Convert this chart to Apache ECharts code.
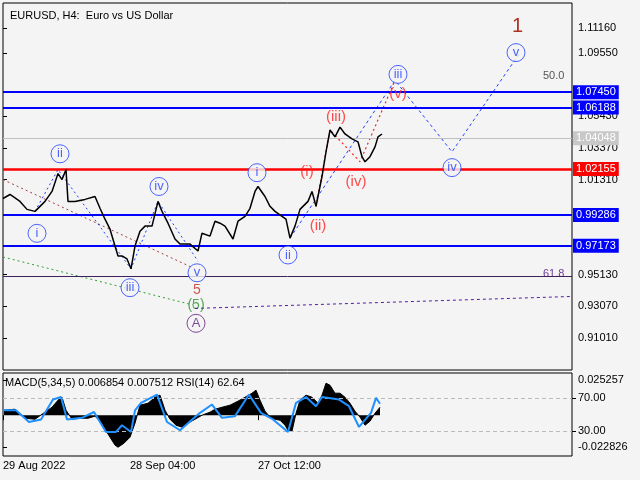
<!DOCTYPE html>
<html><head><meta charset="utf-8">
<script src="https://cdn.jsdelivr.net/npm/echarts@6/dist/echarts.min.js"></script>
<style>html,body{margin:0;padding:0;background:#f4f4f4}#c{width:640px;height:480px}</style>
</head><body><div id="c"></div>
<script>
// price path (x = H4 bar position, price)
var priceX = [0,7,17,24,32,42,49,55,59,63,65,72,82,92,97,102,107,112,115,119,124,128,132,137,142,149,155,159,165,172,177,187,195,199,207,212,217,222,230,235,242,247,252,255,262,267,272,279,283,287,292,297,305,309,313,319,323,327,332,337,342,349,355,359,362,367,372,375,379];
var priceY = [1.0008,1.0034,0.9989,0.9937,0.9924,0.9989,1.0054,1.0170,1.0131,1.0196,0.9989,0.9989,1.0002,1.0021,0.9944,0.9873,0.9808,0.9698,0.9634,0.9634,0.9614,0.9550,0.9698,0.9795,0.9828,0.9828,0.9989,0.9924,0.9847,0.9744,0.9711,0.9711,0.9666,0.9782,0.9763,0.9860,0.9847,0.9828,0.9744,0.9860,0.9892,0.9944,1.0054,1.0086,1.0021,0.9957,0.9924,0.9892,0.9873,0.9750,0.9828,0.9937,0.9989,1.0054,0.9957,1.0151,1.0312,1.0454,1.0409,1.0473,1.0428,1.0396,1.0377,1.0280,1.0247,1.0280,1.0344,1.0409,1.0428];
var priceTicks = [1.1116,1.0955,1.0543,1.0337,1.0131,0.9513,0.9307,0.9101];
var levelBlue = [1.0745,1.06188,0.99286,0.97173];
var levelRed = 1.02155, levelGray = 1.04048, level618 = 0.9460;
// indicator panel
var macdX = [1,12,22,32,42,49,55,59,63,69,77,85,92,97,102,107,112,115,121,127,132,137,145,152,157,162,167,173,179,185,192,199,207,212,219,227,235,242,249,253,257,262,267,272,277,282,285,289,293,297,303,309,315,319,323,327,332,337,342,347,352,357,362,367,372,377];
var macdV = [0.0036,0.0043,-0.0022,-0.0029,0.0022,0.0057,0.0108,0.0129,0.0036,-0.0029,-0.0022,-0.0022,-0.0007,-0.0043,-0.0101,-0.0158,-0.0215,-0.0230,-0.0201,-0.0158,-0.0057,0.0072,0.0086,0.0129,0.0144,0.0036,-0.0029,-0.0072,-0.0086,-0.0057,-0.0029,0,0.0022,0.0043,0.0057,0.0072,0.0101,0.0129,0.0158,0.0180,0.0108,0.0029,-0.0014,-0.0029,-0.0036,-0.0072,-0.0108,-0.0115,0.0014,0.0108,0.0144,0.0129,0.0086,0.0144,0.0230,0.0215,0.0158,0.0158,0.0129,0.0086,0.0029,-0.0014,-0.0072,-0.0043,0.0014,0.0057];
var rsiX = [1,13,26,38,50,58,64,79,91,103,113,119,128,132,138,154,164,177,197,209,219,232,246,258,270,285,293,303,313,319,336,346,356,368,373,377];
var rsiV = [55,55,41,44,68,71,44,46,53,29,29,37,29,55,64,74,41,31,52,62,46,48,74,52,44,29,64,71,60,71,68,60,35,52,70,63];
var dateLabels = ['29 Aug 2022','28 Sep 04:00','27 Oct 12:00'];
var dateX = [0,127,255];
// wave annotations [x, price, text]
var blueCircles = [[34,0.9781,'i'],[57,1.0299,'ii'],[127,0.9427,'iii'],[156,1.0086,'iv'],[194,0.9524,'v'],[254,1.0176,'i'],[285,0.9640,'ii'],[395,1.0816,'iii'],[449,1.0209,'iv'],[513,1.0958,'v']];
var redText = [[304,1.0183,'(i)'],[315,0.9828,'(ii)'],[333,1.0538,'(iii)'],[353,1.0118,'(iv)'],[395,1.0687,'(v)']];
var waveDown = [[32,0.9924],[55,1.0196],[128,0.9550],[155,0.9989],[195,0.9600]];
var projBlue = [[287,0.9750],[392,1.0777],[449,1.0312],[517,1.0958]];
var projRed = [[313,0.9957],[327,1.0454],[357,1.0247],[392,1.0777]];
var brownDash = [[0,1.0131],[192,0.9550]];
var greenDash = [[0,0.9627],[192,0.9311]];
var purpleDash = [[192,0.9292],[569,0.9370]];

var FONT = 'Liberation Sans';
var chart = echarts.init(document.getElementById('c'));
function zip(a,b){return a.map(function(v,i){return [v,b[i]];});}
function lvl(v,bg,col,w,c){return {yAxis:v,lineStyle:{color:c,width:w,type:'solid'},label:{show:true,position:'end',distance:1,formatter:v.toFixed(5),backgroundColor:bg,color:col,padding:[2,3,1,3],fontSize:11,fontFamily:FONT}};}
var opt = {
  animation:false, backgroundColor:'#f4f4f4',
  textStyle:{fontFamily:FONT},
  title:{text:'EURUSD, H4:  Euro vs US Dollar',left:5,top:5,textStyle:{fontSize:11,fontWeight:'normal',color:'#000',fontFamily:FONT}},
  grid:[{left:3,top:3,width:569,height:367,show:true,borderColor:'#000',borderWidth:1,backgroundColor:'#f4f4f4'},
        {left:3,top:373,width:569,height:83,show:true,borderColor:'#000',borderWidth:1,backgroundColor:'#f4f4f4'}],
  xAxis:[{type:'value',gridIndex:0,min:0,max:569,axisLine:{show:false},axisTick:{show:false},axisLabel:{show:false},splitLine:{show:false}},
         {type:'value',gridIndex:1,min:0,max:569,axisLine:{show:false},splitLine:{show:false},
          axisTick:{show:true,customValues:dateX,length:5,inside:false,lineStyle:{color:'#000'}},
          axisLabel:{customValues:dateX,formatter:function(v){return dateLabels[dateX.indexOf(Math.round(v))]||'';},align:'left',color:'#000',fontSize:11,margin:4}}],
  yAxis:[{type:'value',gridIndex:0,position:'right',min:0.8891,max:1.1281,splitLine:{show:false},axisLine:{show:false},
          axisTick:{show:true,customValues:priceTicks,length:4,lineStyle:{color:'#000'}},
          axisLabel:{customValues:priceTicks,formatter:function(v){return v.toFixed(5);},color:'#000',fontSize:11,margin:6}},
         {type:'value',gridIndex:1,position:'right',min:-0.0293,max:0.0303,splitLine:{show:false},axisLine:{show:false},
          axisTick:{show:true,customValues:[0.025257,-0.022826],length:4,lineStyle:{color:'#000'}},
          axisLabel:{customValues:[0.025257,-0.022826],formatter:function(v){return v.toFixed(6);},color:'#000',fontSize:11,margin:6}},
         {type:'value',gridIndex:1,position:'right',min:0,max:100,axisLine:{show:false},
          splitLine:{show:false},
          axisTick:{show:true,customValues:[70,30],length:4,lineStyle:{color:'#000'}},
          axisLabel:{customValues:[70,30],formatter:function(v){return v.toFixed(2);},color:'#000',fontSize:11,margin:6}}],
  graphic:[{type:'text',left:5,top:377,style:{text:'MACD(5,34,5) 0.006854 0.007512 RSI(14) 62.64',fontSize:11,fontFamily:FONT,fill:'#000'}},
           {type:'text',left:543,top:70,style:{text:'50.0',fontSize:11,fontFamily:FONT,fill:'#555'}},
           {type:'text',left:543,top:268,style:{text:'61.8',fontSize:11,fontFamily:FONT,fill:'#6a3d9a'}},
           {type:'text',left:512,top:16,style:{text:'1',fontSize:20,fontFamily:FONT,fill:'#b03020'}}],
  series:[
    {type:'line',xAxisIndex:0,yAxisIndex:0,data:zip(priceX,priceY),symbol:'none',lineStyle:{color:'#000',width:1.5},z:5,
     markLine:{silent:true,symbol:'none',data:[
       lvl(levelGray,'#c8c8c8','#fff',1,'#c0c0c0'),
       lvl(level618,'rgba(0,0,0,0)','rgba(0,0,0,0)',1,'#40205a'),
       lvl(levelBlue[0],'#0000ff','#fff',2,'#0000ff'),
       lvl(levelBlue[1],'#0000ff','#fff',2,'#0000ff'),
       lvl(levelRed,'#ff0000','#fff',2.5,'#ff0000'),
       lvl(levelBlue[2],'#0000ff','#fff',2,'#0000ff'),
       lvl(levelBlue[3],'#0000ff','#fff',2,'#0000ff')]}},
    {type:'line',data:waveDown,symbol:'none',lineStyle:{color:'#2040ff',width:1,type:[2,3]}},
    {type:'line',data:projBlue,symbol:'none',lineStyle:{color:'#2040ff',width:1,type:[3,3]}},
    {type:'line',data:projRed,symbol:'none',lineStyle:{color:'#ff2020',width:1.2,type:[2,3]}},
    {type:'line',data:brownDash,symbol:'none',lineStyle:{color:'#a04040',width:1,type:[2,3]}},
    {type:'line',data:greenDash,symbol:'none',lineStyle:{color:'#30a030',width:1,type:[2,3]}},
    {type:'line',data:purpleDash,symbol:'none',lineStyle:{color:'#5020a0',width:1,type:[3,3]}},
    {type:'scatter',data:blueCircles,symbol:'circle',symbolSize:18,z:10,itemStyle:{color:'#f4f4f4',borderColor:'#2040ff',borderWidth:1},
     label:{show:true,position:'inside',formatter:function(p){return p.data[2];},color:'#2040ff',fontSize:13}},
    {type:'scatter',data:redText,symbolSize:1,z:10,itemStyle:{color:'rgba(0,0,0,0)'},
     label:{show:true,position:'inside',formatter:function(p){return p.data[2];},color:'#ff2020',fontSize:15}},
    {type:'scatter',data:[[194,0.9410,'5']],symbolSize:1,itemStyle:{color:'rgba(0,0,0,0)'},label:{show:true,position:'inside',formatter:'5',color:'#c03020',fontSize:14}},
    {type:'scatter',data:[[193,0.9311,'(5)']],symbolSize:1,itemStyle:{color:'rgba(0,0,0,0)'},label:{show:true,position:'inside',formatter:'(5)',color:'#309030',fontSize:14}},
    {type:'scatter',data:[[193,0.9195,'A']],symbol:'circle',symbolSize:18,itemStyle:{color:'#f4f4f4',borderColor:'#602080',borderWidth:1},label:{show:true,position:'inside',formatter:'A',color:'#602080',fontSize:13}},
    {type:'line',xAxisIndex:1,yAxisIndex:1,data:zip(macdX,macdV),symbol:'none',lineStyle:{color:'#000',width:1},areaStyle:{color:'#000',opacity:1,origin:0}},
    {type:'line',xAxisIndex:1,yAxisIndex:2,data:zip(rsiX,rsiV),symbol:'none',lineStyle:{color:'#1e90ff',width:2},z:6,
     markLine:{silent:true,symbol:'none',label:{show:false},lineStyle:{color:'#bbb',type:[4,3],width:1},data:[{yAxis:70},{yAxis:30}]}}
  ]
};
chart.setOption(opt);
</script></body></html>
